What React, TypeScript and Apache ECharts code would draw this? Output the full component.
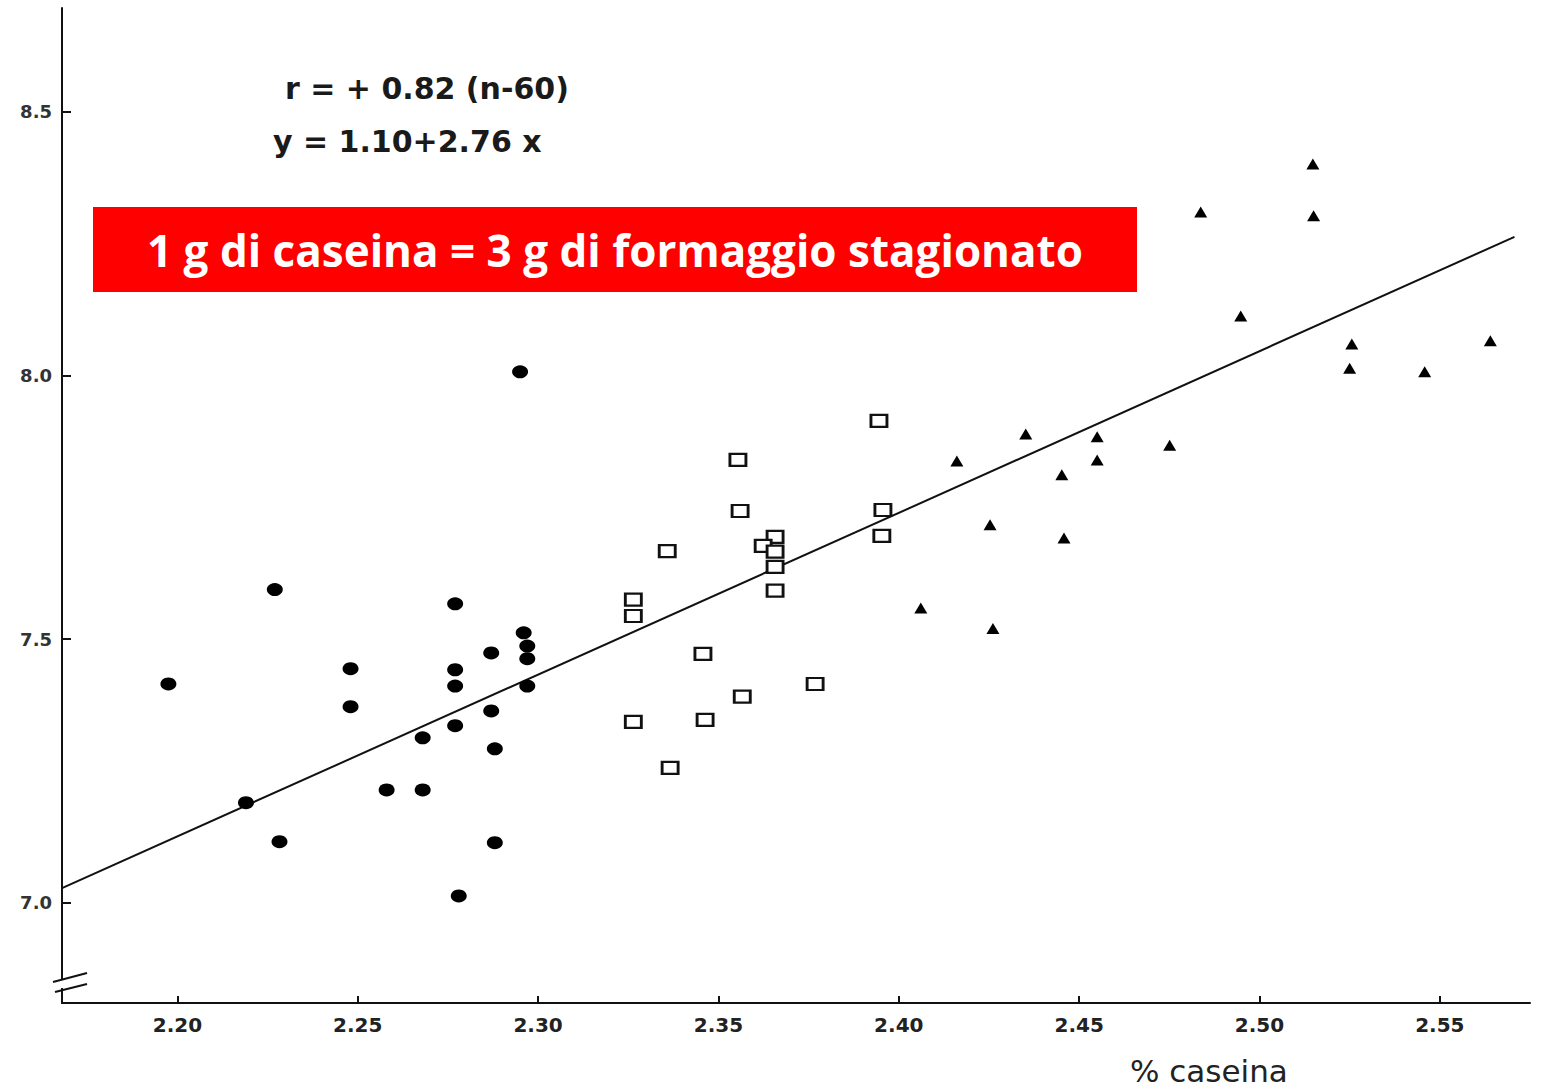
import React, { useEffect, useRef } from "react";
import * as echarts from "echarts";

// % caseina (x) vs yield-related value (y)
const circleX = [2.1975, 2.219, 2.227, 2.2283, 2.248, 2.248, 2.258, 2.268, 2.268, 2.277, 2.277, 2.277, 2.277, 2.278, 2.287, 2.287, 2.288, 2.288, 2.295, 2.296, 2.297, 2.297, 2.297];
const circleY = [7.415, 7.19, 7.594, 7.116, 7.444, 7.372, 7.214, 7.313, 7.214, 7.567, 7.442, 7.411, 7.336, 7.013, 7.474, 7.364, 7.292, 7.114, 8.007, 7.512, 7.487, 7.463, 7.411];

const squareX = [2.3945, 2.3554, 2.356, 2.3358, 2.3657, 2.3624, 2.3657, 2.3657, 2.3657, 2.3956, 2.3953, 2.3264, 2.3264, 2.3457, 2.3768, 2.3566, 2.3264, 2.3463, 2.3366];
const squareY = [7.914, 7.84, 7.743, 7.667, 7.694, 7.677, 7.666, 7.637, 7.592, 7.745, 7.696, 7.575, 7.544, 7.472, 7.415, 7.391, 7.343, 7.347, 7.256];

const triangleX = [2.5148, 2.4837, 2.515, 2.4948, 2.5256, 2.525, 2.5458, 2.564, 2.4352, 2.455, 2.455, 2.4161, 2.4751, 2.4452, 2.4253, 2.4458, 2.4061, 2.4261];
const triangleY = [8.401, 8.31, 8.303, 8.113, 8.06, 8.014, 8.007, 8.066, 7.889, 7.884, 7.84, 7.838, 7.868, 7.812, 7.717, 7.692, 7.559, 7.52];

const lineX = [2.168, 2.5707];
const lineY = [7.028, 8.263];

const xTicks = [2.2, 2.25, 2.3, 2.35, 2.4, 2.45, 2.5, 2.55];
const yTicks = [7.0, 7.5, 8.0, 8.5];

const X_MIN = 2.168;
const X_MAX = 2.575;
const Y_MIN = 6.81;
const Y_MAX = 8.697;

const zip = (xs: number[], ys: number[]) => xs.map((x, i) => [x, ys[i]]);

export default function App() {
  const ref = useRef<HTMLDivElement>(null);
  useEffect(() => {
    if (!ref.current) return;
    const chart = echarts.init(ref.current, null, { renderer: "svg" });
    chart.setOption({
      animation: false,
      backgroundColor: "#ffffff",
      grid: { left: 62, right: 15, top: 8, bottom: 85 },
      xAxis: {
        type: "value",
        min: X_MIN,
        max: X_MAX,
        splitLine: { show: false },
        axisLine: { show: true, onZero: false, lineStyle: { color: "#111", width: 2 } },
        axisTick: { show: true, inside: true, length: 7, customValues: xTicks, lineStyle: { color: "#111", width: 2 } },
        axisLabel: {
          customValues: xTicks,
          formatter: (v: number) => v.toFixed(2),
          fontFamily: "DejaVu Sans",
          fontWeight: "bold",
          fontSize: 20,
          color: "#222",
          margin: 12,
        },
      },
      yAxis: {
        type: "value",
        min: Y_MIN,
        max: Y_MAX,
        splitLine: { show: false },
        axisLine: { show: true, onZero: false, lineStyle: { color: "#111", width: 2 } },
        axisTick: { show: true, inside: true, length: 9, customValues: yTicks, lineStyle: { color: "#111", width: 2 } },
        axisLabel: {
          customValues: yTicks,
          formatter: (v: number) => v.toFixed(1),
          fontFamily: "DejaVu Sans",
          fontWeight: "bold",
          fontSize: 18,
          color: "#333",
          margin: 10,
        },
      },
      series: [
        {
          type: "line",
          data: zip(lineX, lineY),
          showSymbol: false,
          symbol: "none",
          lineStyle: { color: "#111", width: 2 },
          z: 2,
        },
        {
          type: "scatter",
          data: zip(circleX, circleY),
          symbol: "circle",
          symbolSize: [16, 13],
          itemStyle: { color: "#000000", opacity: 1 },
          z: 3,
        },
        {
          type: "scatter",
          data: zip(squareX, squareY),
          symbol: "rect",
          symbolSize: [16, 12],
          itemStyle: { color: "#ffffff", borderColor: "#111", borderWidth: 2.5, opacity: 1 },
          z: 3,
        },
        {
          type: "scatter",
          data: zip(triangleX, triangleY),
          symbol: "triangle",
          symbolSize: [13, 11],
          itemStyle: { color: "#000000", opacity: 1 },
          z: 3,
        },
      ],
      graphic: [
        {
          type: "text",
          left: 285,
          top: 73,
          style: { text: "r = + 0.82 (n-60)", font: "bold 30px 'DejaVu Sans'", fill: "#1a1a1a" },
        },
        {
          type: "text",
          left: 273,
          top: 126,
          style: { text: "y = 1.10+2.76 x", font: "bold 30px 'DejaVu Sans'", fill: "#1a1a1a" },
        },
        {
          type: "rect",
          shape: { x: 93, y: 207, width: 1044, height: 85 },
          style: { fill: "#ff0000" },
          z: 10,
        },
        {
          type: "text",
          x: 615,
          y: 250,
          style: {
            text: "1 g di caseina = 3 g di formaggio stagionato",
            font: "bold 44px 'Open Sans'",
            fill: "#ffffff",
            textAlign: "center",
            textVerticalAlign: "middle",
          },
          z: 11,
        },
        {
          type: "text",
          x: 1130,
          y: 1071,
          style: {
            text: "% caseina",
            font: "31px 'DejaVu Sans'",
            fill: "#222",
            textAlign: "left",
            textVerticalAlign: "middle",
          },
        },
        {
          type: "rect",
          shape: { x: 55, y: 979, width: 14, height: 9 },
          style: { fill: "#ffffff" },
          z: 10,
        },
        {
          type: "line",
          shape: { x1: 53, y1: 982, x2: 87, y2: 973 },
          style: { stroke: "#111", lineWidth: 2 },
          z: 11,
        },
        {
          type: "line",
          shape: { x1: 55, y1: 992, x2: 87, y2: 984 },
          style: { stroke: "#111", lineWidth: 2 },
          z: 11,
        },
      ],
    });
    return () => chart.dispose();
  }, []);
  return (
    <div
      ref={ref}
      style={{ position: "fixed", left: 0, top: 0, width: 1545, height: 1088, background: "#fff" }}
    />
  );
}
